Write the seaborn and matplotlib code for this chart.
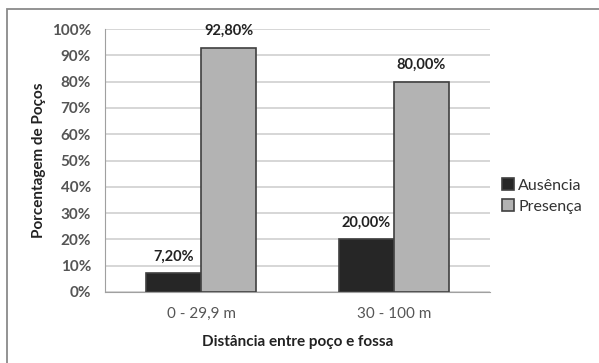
import pandas as pd
import seaborn as sns
import matplotlib.pyplot as plt
from matplotlib.patches import Rectangle

# Data
categorias = ['0 - 29,9 m', '30 - 100 m']
ausencia = [7.20, 20.00]
presenca = [92.80, 80.00]
series = ['Ausência', 'Presença']
yticks = [0, 10, 20, 30, 40, 50, 60, 70, 80, 90, 100]

df = pd.DataFrame({
    'Distância': categorias * 2,
    'Grupo': [series[0]] * len(categorias) + [series[1]] * len(categorias),
    'Valor': ausencia + presenca,
})

sns.set_style('white')
plt.rcParams['font.family'] = ['Lato', 'DejaVu Sans']

fig = plt.figure(figsize=(5.99, 3.63), dpi=100)
ax = fig.add_axes([0.1753, 0.1956, 0.6427, 0.7245])

# outer frame like the original chart border
fig.patches.append(Rectangle((7 / 599, -0.05), 1.1, 1 - 9 / 363 + 0.05,
                             transform=fig.transFigure, fill=False,
                             edgecolor='#8a8a8a', linewidth=1.3, zorder=0))

sns.barplot(data=df, x='Distância', y='Valor', hue='Grupo',
            palette=['#262626', '#b3b3b3'], width=0.57, gap=0,
            edgecolor='#404040', linewidth=1.2, ax=ax, legend=True, zorder=3)

ax.set_ylim(0, 100)
ax.set_yticks(yticks)
ax.set_yticklabels([f'{t}%' for t in yticks])
ax.yaxis.grid(True, color='#cfcfcf', linewidth=1.2, zorder=0)
ax.set_axisbelow(True)
for s in ['top', 'right']:
    ax.spines[s].set_visible(False)
ax.spines['left'].set_color('#a0a0a0')
ax.spines['bottom'].set_color('#a0a0a0')
ax.tick_params(axis='y', length=4, color='#a0a0a0', labelsize=11,
               labelcolor='#555555', pad=6)
ax.tick_params(axis='x', length=0, labelsize=11, labelcolor='#555555', pad=11)
for lab in ax.get_yticklabels():
    lab.set_fontweight('bold')

ax.set_xlabel('Distância entre poço e fossa', fontsize=11, fontweight='bold',
              color='#222222', labelpad=10)
ax.set_ylabel('Porcentagem de Poços', fontsize=11, fontweight='bold',
              color='#222222', labelpad=4)

for cont in ax.containers:
    labels = [f'{b.get_height():.2f}'.replace('.', ',') + '%' for b in cont]
    ax.bar_label(cont, labels=labels, padding=7, fontsize=10.5,
                 fontweight='bold', color='#222222')

ax.legend(loc='center left', bbox_to_anchor=(0.995, 0.365), frameon=False,
          fontsize=11.5, handlelength=0.75, handleheight=0.75, handletextpad=0.25,
          labelspacing=0.4, labelcolor='#333333')

fig.savefig('out.png', dpi=100)
